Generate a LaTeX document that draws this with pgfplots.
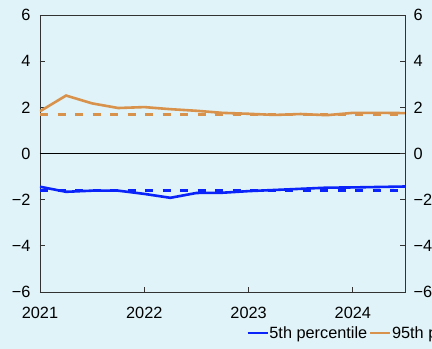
\documentclass[border=0pt]{standalone}
\usepackage{fontspec}
\setmainfont{Liberation Sans}
\usepackage{pgfplots}
\pgfplotsset{compat=1.18}
\definecolor{bgc}{RGB}{224,243,248}
\definecolor{cblue}{RGB}{10,35,250}
\definecolor{corange}{RGB}{217,146,75}
\definecolor{axc}{RGB}{50,50,50}
\newcommand\cf{\fontsize{16.3bp}{19bp}\selectfont}
\begin{document}
\begin{tikzpicture}[x=1bp,y=1bp]
\clip (0,0) rectangle (432,349);
\fill[bgc] (0,0) rectangle (432,349);
\begin{axis}[
  at={(40bp,57bp)}, anchor=south west,
  scale only axis, width=365bp, height=277bp,
  xmin=2021, xmax=2024.5, ymin=-6, ymax=6,
  xtick={2021,2022,2023,2024}, xticklabels={2021,2022,2023,2024},
  ytick={-6,-4,-2,0,2,4,6}, yticklabels={−6,−4,−2,0,2,4,6},
  xtick pos=bottom, ytick pos=left,
  tick align=inside, major tick length=5bp,
  axis line style={axc, line width=0.9bp},
  tick style={axc, line width=0.9bp},
  tick label style={font=\cf, text=black},
  /pgf/number format/assume math mode=true,
  xticklabel style={yshift=-12bp},
  yticklabel style={xshift=-6bp},
  legend style={at={(0.5644,-0.148)}, anchor=west, draw=none, fill=none,
    font=\cf, inner sep=0pt, legend columns=2,
    /tikz/every even column/.append style={column sep=1bp},
    nodes={inner sep=0.6bp}},
  legend image code/.code={\draw[#1] (0bp,0bp) -- (20bp,0bp);},
]
\addplot[cblue, line width=2.6bp] coordinates {
(2021,-1.44) (2021.25,-1.66) (2021.5,-1.61) (2021.75,-1.61) (2022,-1.75) (2022.25,-1.92)
(2022.5,-1.71) (2022.75,-1.70) (2023,-1.63) (2023.25,-1.58) (2023.5,-1.53) (2023.75,-1.48)
(2024,-1.47) (2024.25,-1.45) (2024.5,-1.43)};
\addlegendentry{5th percentile}
\addplot[corange, line width=2.6bp] coordinates {
(2021,1.83) (2021.25,2.51) (2021.5,2.17) (2021.75,1.97) (2022,2.01) (2022.25,1.92)
(2022.5,1.85) (2022.75,1.76) (2023,1.72) (2023.25,1.67) (2023.5,1.71) (2023.75,1.66)
(2024,1.76) (2024.25,1.76) (2024.5,1.75)};
\addlegendentry{95th percentile}
\addplot[forget plot, cblue, line width=2.8bp, dash pattern=on 8.3bp off 9.2bp] coordinates {(2021,-1.60) (2024.5,-1.60)};
\addplot[forget plot, corange, line width=2.8bp, dash pattern=on 8.3bp off 9.2bp] coordinates {(2021,1.70) (2024.5,1.70)};
\addplot[forget plot, black, line width=0.9bp] coordinates {(2021,0) (2024.5,0)};
\end{axis}
\begin{axis}[
  at={(40bp,57bp)}, anchor=south west,
  scale only axis, width=365bp, height=277bp,
  xmin=2021, xmax=2024.5, ymin=-6, ymax=6,
  axis x line=none, axis y line*=right,
  ytick={-6,-4,-2,0,2,4,6}, yticklabels={−6,−4,−2,0,2,4,6},
  tick align=inside, major tick length=5bp,
  axis line style={axc, line width=0.9bp, -},
  tick style={axc, line width=0.9bp},
  tick label style={font=\cf, text=black},
  yticklabel style={xshift=5bp},
]
\addplot[draw=none] coordinates {(2021,0)};
\end{axis}
\end{tikzpicture}
\end{document}
